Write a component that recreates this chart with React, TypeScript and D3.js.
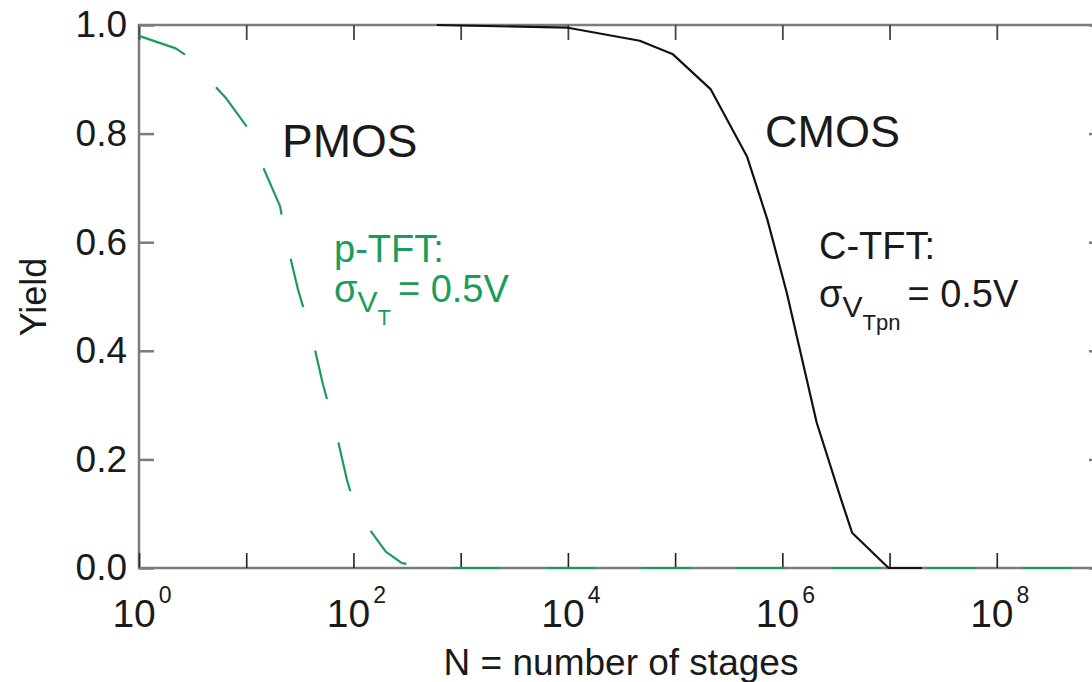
import * as d3 from "d3";
import React, { useRef, useEffect } from "react";

const width = 1092;
const height = 682;
const margin = { top: 25, left: 139, bottom: 114, right: -12 };

// decade ticks on the x axis, labels only on even exponents
const decades = [1e0, 1e1, 1e2, 1e3, 1e4, 1e5, 1e6, 1e7, 1e8, 1e9];
const labelExponents = [0, 2, 4, 6, 8];
const yTicks = [0, 0.2, 0.4, 0.6, 0.8, 1.0];

// PMOS (p-TFT, sigma VT = 0.5V)
const pmosN = [1, 2.2, 2.8, 6.5, 10.2, 11.8, 20.7, 23.5, 30.4, 41, 52, 69, 87, 101, 140, 200, 283, 515, 1e9];
const pmosYield = [0.98, 0.957, 0.943, 0.865, 0.812, 0.777, 0.666, 0.605, 0.513, 0.426, 0.338, 0.249, 0.162, 0.12, 0.072, 0.03, 0.009, 0, 0];

// CMOS (C-TFT, sigma VTpn = 0.5V)
const cmosN = [600, 1e4, 4.68e4, 9.55e4, 2.14e5, 4.68e5, 7.24e5, 1.1e6, 2.09e6, 3.47e6, 4.47e6, 9.8e6, 2e7];
const cmosYield = [1.0, 0.995, 0.971, 0.946, 0.882, 0.758, 0.642, 0.507, 0.268, 0.131, 0.065, 0, 0];

const green = "#1c9c5a";
const ink = "#1a1a1a";
const font = "'Liberation Sans', Arial, sans-serif";

const YieldChart = () => {
	const d3Container = useRef(null);

	useEffect(() => {
		if (d3Container.current) {
			const svg = d3.select(d3Container.current);
			svg.selectAll("*").remove();
			renderChart(svg);
		}
	}, []);

	const renderChart = (svg: any) => {
		const innerW = width - margin.left - margin.right;
		const innerH = height - margin.top - margin.bottom;

		const xScale = d3.scaleLog().domain([1, 1e9]).range([0, innerW]);
		const yScale = d3.scaleLinear().domain([0, 1]).range([innerH, 0]);

		const g = svg
			.append("g")
			.attr("transform", `translate(${margin.left}, ${margin.top})`);

		// frame
		g.append("rect")
			.attr("width", innerW)
			.attr("height", innerH)
			.attr("fill", "none")
			.attr("stroke", "#7c7c7c")
			.attr("stroke-width", 2.5);

		const styleTicks = (sel: any, color: string, w: number) => {
			sel.select(".domain").remove();
			sel.selectAll(".tick line").attr("stroke", color).attr("stroke-width", w);
		};

		// x ticks, bottom and top, pointing inward
		g.append("g")
			.attr("transform", `translate(0,${innerH})`)
			.call(d3.axisBottom(xScale).tickValues(decades).tickSize(-15).tickFormat(() => ""))
			.call((s: any) => styleTicks(s, "#222", 1.6));
		g.append("g")
			.call(d3.axisTop(xScale).tickValues(decades).tickSize(-15).tickFormat(() => ""))
			.call((s: any) => styleTicks(s, "#444", 1.8));

		// y ticks, left with labels, right without
		const left = g
			.append("g")
			.call(
				d3
					.axisLeft(yScale)
					.tickValues(yTicks)
					.tickSize(-15)
					.tickPadding(12)
					.tickFormat(d3.format(".1f"))
			);
		styleTicks(left, "#7c7c7c", 2.5);
		left.selectAll(".tick text")
			.attr("font-size", 37)
			.attr("font-family", font)
			.attr("fill", ink);
		g.append("g")
			.attr("transform", `translate(${innerW},0)`)
			.call(d3.axisRight(yScale).tickValues(yTicks).tickSize(-15).tickFormat(() => ""))
			.call((s: any) => styleTicks(s, "#7c7c7c", 2.5));

		// x labels 10^n
		const xLabels = g
			.selectAll(".xlabel")
			.data(labelExponents)
			.enter()
			.append("text")
			.attr("class", "xlabel")
			.attr("x", (e: number) => xScale(Math.pow(10, e)) + 3)
			.attr("y", innerH + 59)
			.attr("text-anchor", "middle")
			.attr("font-family", font)
			.attr("fill", ink);
		xLabels.append("tspan").attr("font-size", 39).text("10");
		xLabels
			.append("tspan")
			.attr("font-size", 23)
			.attr("dx", 3)
			.attr("dy", -24)
			.text((e: number) => String(e));

		// curves
		const drawCurve = (ns: number[], ys: number[], color: string, dash: string | null) => {
			const path = d3
				.line<number>()
				.x((d: number) => xScale(d))
				.y((_d: number, i: number) => yScale(ys[i]));
			const p = g
				.append("path")
				.datum(ns)
				.attr("d", path)
				.attr("fill", "none")
				.attr("stroke", color)
				.attr("stroke-width", 2.2)
				.attr("stroke-linejoin", "round");
			if (dash) p.attr("stroke-dasharray", dash);
		};

		drawCurve(pmosN, pmosYield, green, "50 45");
		drawCurve(cmosN, cmosYield, "#111", null);

		// axis titles
		svg.append("text")
			.attr("x", 621)
			.attr("y", 675)
			.attr("text-anchor", "middle")
			.attr("font-size", 37)
			.attr("font-family", font)
			.attr("fill", ink)
			.text("N = number of stages");

		svg.append("text")
			.attr("transform", "translate(46,297) rotate(-90)")
			.attr("text-anchor", "middle")
			.attr("font-size", 36)
			.attr("font-family", font)
			.attr("fill", ink)
			.text("Yield");
	};

	const sigmaLabel = (x: number, y: number, color: string, sub: string, subsub: string) => (
		<text x={x} y={y} fontFamily={font} fill={color} fontSize={38}>
			<tspan>σ</tspan>
			<tspan fontSize={30} dy={10}>
				{sub}
			</tspan>
			<tspan fontSize={22} dy={13}>
				{subsub}
			</tspan>
			<tspan fontSize={38} dx={7} dy={-23}>
				= 0.5V
			</tspan>
		</text>
	);

	return (
		<svg
			width={width}
			height={height}
			style={{ position: "absolute", left: 0, top: 0, backgroundColor: "white" }}>
			<g ref={d3Container} />
			<text x={282} y={157} fontSize={46} fontFamily={font} fill={ink}>
				PMOS
			</text>
			<text x={765} y={147} fontSize={45} fontFamily={font} fill={ink}>
				CMOS
			</text>
			<text x={334} y={262} fontSize={38} fontFamily={font} fill={green}>
				p-TFT:
			</text>
			{sigmaLabel(334, 302, green, "V", "T")}
			<text x={819} y={259} fontSize={38} fontFamily={font} fill={ink}>
				C-TFT:
			</text>
			{sigmaLabel(819, 307, ink, "V", "Tpn")}
		</svg>
	);
};

export default function App() {
	return <YieldChart />;
}
